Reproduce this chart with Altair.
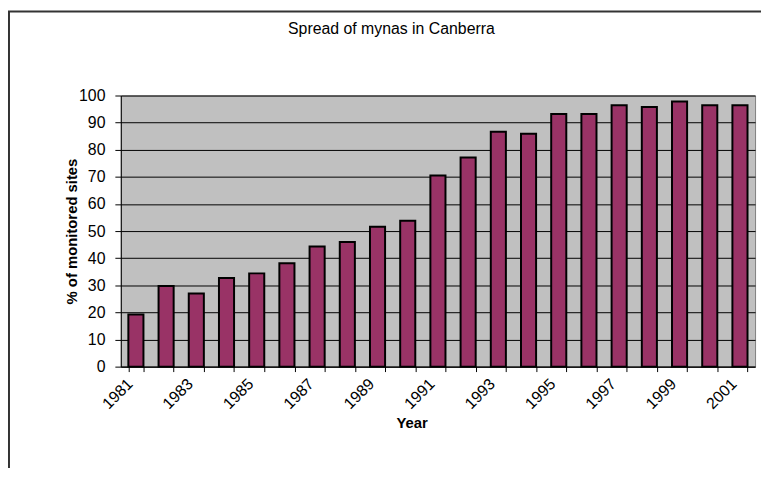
import altair as alt
import pandas as pd

years = list(range(1981, 2002))
percent_sites = [19.2, 29.7, 27.0, 32.7, 34.4, 38.1, 44.3, 46.0, 51.6, 53.8, 70.5,
                 77.1, 86.6, 85.9, 93.2, 93.2, 96.4, 95.8, 97.8, 96.4, 96.4]
y_ticks = list(range(0, 101, 10))

df = pd.DataFrame({"year": years, "pct": percent_sites})
FONT = "Liberation Sans"

bars = alt.Chart(df).mark_bar(color="#993366", stroke="black", strokeWidth=2).encode(
    x=alt.X(
        "year:O",
        scale=alt.Scale(paddingInner=0.5, paddingOuter=0.25),
        axis=alt.Axis(
            title="Year",
            titleFont=FONT, titleFontSize=15, titleFontWeight="bold", titleColor="black",
            titleX=294, titleY=62, titleBaseline="alphabetic",
            labelExpr="datum.value % 2 == 1 ? datum.label : ''",
            labelAngle=-45, labelAlign="right", labelBaseline="top",
            labelOffset=-12, labelPadding=4,
            labelFont=FONT, labelFontSize=16, labelColor="black",
            tickBand="extent", tickSize=5, tickColor="black",
            domainColor="black", grid=False,
        ),
    ),
    y=alt.Y(
        "pct:Q",
        scale=alt.Scale(domain=[0, 100], nice=False),
        axis=alt.Axis(
            title="% of monitored sites",
            titleFont=FONT, titleFontSize=15, titleFontWeight="bold", titleColor="black",
            titleX=-50, titleY=137, titleBaseline="middle", titleAngle=-90,
            values=y_ticks, labelFont=FONT, labelFontSize=16, labelColor="black",
            labelPadding=10, tickSize=6, tickColor="black", domainColor="black",
            grid=True, gridColor="black", gridOpacity=1, gridWidth=1,
        ),
    ),
)

border = alt.Chart(pd.DataFrame({"a": [0]})).mark_rect(
    fill="transparent", stroke="#333333", strokeWidth=2
).encode(
    x=alt.value(-113), x2=alt.value(800), y=alt.value(-85), y2=alt.value(500)
)

chart = alt.layer(bars, border).properties(
    width=641,
    height=274,
    background="white",
    autosize=alt.AutoSizeParams(type="none"),
    padding={"left": 114, "top": 86, "right": 6, "bottom": 100},
    title=alt.TitleParams(
        "Spread of mynas in Canberra", font=FONT, fontSize=16, fontWeight="normal",
        color="black", anchor="middle", dx=-47, offset=-40, baseline="alphabetic",
    ),
).configure_view(fill="#C0C0C0", stroke="#808080", strokeWidth=1)

chart.save("out.html", embed_options={"renderer": "svg", "actions": False})
